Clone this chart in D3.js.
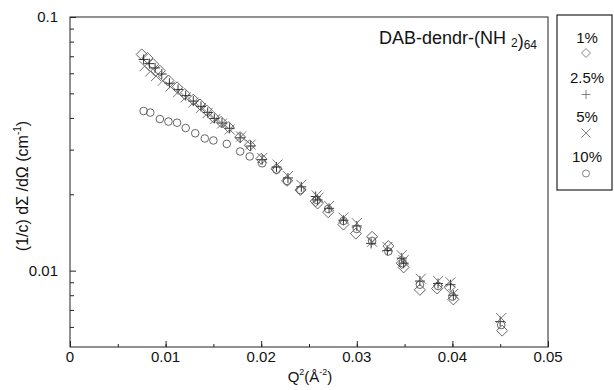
<!DOCTYPE html>
<html><head><meta charset="utf-8">
<script src="https://cdn.jsdelivr.net/npm/d3@7"></script>
<style>
body{margin:0;background:#fff;}
text{font-family:"Liberation Sans",Arial,sans-serif;fill:#111;}
</style></head>
<body><svg id="c" width="614" height="390"></svg>
<script>
// ---- data ----
const seriesNames = ["1%", "2.5%", "5%", "10%"];
const xTicks = [0, 0.01, 0.02, 0.03, 0.04, 0.05];
const xTickLabels = ["0", "0.01", "0.02", "0.03", "0.04", "0.05"];
const yTicks = [0.01, 0.1];
const yTickLabels = ["0.01", "0.1"];

const q2_1 = [0.0075,0.0081,0.0087,0.0094,0.0103,0.0112,0.0120,0.0129,0.0136,0.0143,0.0150,0.0158,0.0166,0.0178,0.0188,0.0200,0.0216,0.0227,0.0241,0.0257,0.0259,0.0270,0.0286,0.0299,0.0316,0.0333,0.0347,0.0349,0.0366,0.0384,0.0397,0.0401,0.0452];
const i_1  = [0.0712,0.0690,0.0652,0.0614,0.0562,0.0528,0.0497,0.0472,0.0452,0.0428,0.0403,0.0386,0.0368,0.0336,0.0312,0.0276,0.0252,0.0226,0.0208,0.0188,0.0184,0.0170,0.0152,0.0140,0.0136,0.0125,0.0107,0.0103,0.0084,0.0085,0.0086,0.0077,0.0058];

const q2_2 = [0.0077,0.0083,0.0089,0.0096,0.0104,0.0113,0.0121,0.0129,0.0137,0.0144,0.0151,0.0159,0.0167,0.0178,0.0189,0.0201,0.0216,0.0228,0.0242,0.0257,0.0259,0.0271,0.0286,0.0300,0.0315,0.0332,0.0347,0.0349,0.0366,0.0385,0.0398,0.0401,0.0450];
const i_2  = [0.0680,0.0655,0.0630,0.0596,0.0548,0.0518,0.0490,0.0466,0.0444,0.0420,0.0398,0.0382,0.0364,0.0334,0.0310,0.0274,0.0256,0.0232,0.0214,0.0196,0.0190,0.0176,0.0158,0.0150,0.0128,0.0120,0.0112,0.0107,0.0091,0.0089,0.0088,0.0080,0.0063];

const q2_3 = [0.0078,0.0084,0.0090,0.0097,0.0105,0.0113,0.0121,0.0129,0.0137,0.0144,0.0152,0.0159,0.0167,0.0179,0.0189,0.0201,0.0217,0.0228,0.0242,0.0258,0.0260,0.0271,0.0286,0.0300,0.0316,0.0332,0.0347,0.0349,0.0367,0.0385,0.0398,0.0401,0.0451];
const i_3  = [0.0640,0.0610,0.0585,0.0560,0.0532,0.0505,0.0482,0.0460,0.0438,0.0418,0.0396,0.0380,0.0360,0.0338,0.0314,0.0278,0.0262,0.0236,0.0218,0.0198,0.0194,0.0180,0.0162,0.0154,0.0130,0.0124,0.0115,0.0110,0.0093,0.0091,0.0090,0.0081,0.0065];

const q2_4 = [0.0077,0.0084,0.0094,0.0103,0.0112,0.0121,0.0131,0.0141,0.0150,0.0164,0.0178,0.0188,0.0201,0.0216,0.0227,0.0241,0.0258,0.0270,0.0286,0.0300,0.0316,0.0333,0.0348,0.0366,0.0385,0.0400,0.0451];
const i_4  = [0.0426,0.0420,0.0396,0.0387,0.0383,0.0365,0.0348,0.0332,0.0326,0.0316,0.0295,0.0282,0.0265,0.0250,0.0226,0.0208,0.0190,0.0175,0.0157,0.0146,0.0131,0.0119,0.0107,0.0088,0.0087,0.0079,0.0061];

const series = [
  {name: seriesNames[0], q: q2_1, v: i_1, sym: "diamond", color: "#555"},
  {name: seriesNames[1], q: q2_2, v: i_2, sym: "plus", color: "#222"},
  {name: seriesNames[2], q: q2_3, v: i_3, sym: "cross", color: "#666"},
  {name: seriesNames[3], q: q2_4, v: i_4, sym: "circle", color: "#555"}
];

// ---- layout ----
const svg = d3.select("#c");
const L = 70, R = 548, T = 17, B = 347;
const x = d3.scaleLinear().domain([0, 0.05]).range([L, R]);
const y = d3.scaleLog().domain([0.005, 0.1]).range([B, T]);

function symPath(sym, s) {
  const h = s / 2;
  if (sym === "diamond") return `M0,${-h}L${h},0L0,${h}L${-h},0Z`;
  if (sym === "plus") return `M${-h},0L${h},0M0,${-h}L0,${h}`;
  return `M${-h},${-h}L${h},${h}M${-h},${h}L${h},${-h}`;
}

// frame
svg.append("rect").attr("x", L).attr("y", T).attr("width", R - L).attr("height", B - T)
  .attr("fill", "none").attr("stroke", "#222").attr("stroke-width", 1);

// x axis (ticks inward)
const xMinor = d3.range(0, 0.0501, 0.005);
svg.append("g").attr("transform", `translate(0,${B})`)
  .call(d3.axisTop(x).tickValues(xMinor).tickSize(3).tickFormat(""))
  .call(g => g.select(".domain").remove())
  .call(g => g.selectAll("line").attr("stroke", "#222"));
svg.append("g").attr("transform", `translate(0,${B})`)
  .call(d3.axisTop(x).tickValues(xTicks).tickSize(6).tickFormat(""))
  .call(g => g.select(".domain").remove())
  .call(g => g.selectAll("line").attr("stroke", "#222"));
svg.append("g").selectAll("text").data(xTicks).join("text")
  .attr("x", d => x(d)).attr("y", B + 15).attr("text-anchor", "middle")
  .attr("font-size", 15).text((d, i) => xTickLabels[i]);

// y axis (ticks inward)
const yMinor = [0.006,0.007,0.008,0.009,0.02,0.03,0.04,0.05,0.06,0.07,0.08,0.09];
svg.append("g").attr("transform", `translate(${L},0)`)
  .call(d3.axisRight(y).tickValues(yMinor).tickSize(4).tickFormat(""))
  .call(g => g.select(".domain").remove())
  .call(g => g.selectAll("line").attr("stroke", "#222"));
svg.append("g").attr("transform", `translate(${L},0)`)
  .call(d3.axisRight(y).tickValues(yTicks).tickSize(6).tickFormat(""))
  .call(g => g.select(".domain").remove())
  .call(g => g.selectAll("line").attr("stroke", "#222"));
svg.append("g").selectAll("text").data(yTicks).join("text")
  .attr("x", L - 12).attr("y", d => y(d) + 5).attr("text-anchor", "end")
  .attr("font-size", 15).text((d, i) => yTickLabels[i]);

// axis titles
const xl = svg.append("text").attr("x", 310).attr("y", 382).attr("text-anchor", "middle").attr("font-size", 15);
xl.append("tspan").text("Q");
xl.append("tspan").attr("font-size", 9).attr("dy", -7).text("2");
xl.append("tspan").attr("dy", 7).text("(Å");
xl.append("tspan").attr("font-size", 9).attr("dy", -7).text("-2");
xl.append("tspan").attr("dy", 7).text(")");

const yl = svg.append("text").attr("transform", "translate(28,186) rotate(-90)")
  .attr("text-anchor", "middle").attr("font-size", 16);
yl.append("tspan").text("(1/c) dΣ /dΩ (cm");
yl.append("tspan").attr("font-size", 10).attr("dy", -7).text("-1");
yl.append("tspan").attr("dy", 7).text(")");

// sample label
const tl = svg.append("text").attr("x", 537).attr("y", 44).attr("text-anchor", "end").attr("font-size", 18);
tl.append("tspan").text("DAB-dendr-(NH ");
tl.append("tspan").attr("font-size", 12).attr("dy", 3).text("2");
tl.append("tspan").attr("dy", 0).text(")");
tl.append("tspan").attr("font-size", 12).attr("dy", 2).text("64");

// data points
const plot = svg.append("g");
series.forEach(s => {
  const pts = s.q.map((q, i) => ({q, v: s.v[i]}));
  const g = plot.append("g");
  if (s.sym === "circle") {
    g.selectAll("circle").data(pts).join("circle")
      .attr("cx", d => x(d.q)).attr("cy", d => y(d.v)).attr("r", 3.8)
      .attr("fill", "none").attr("stroke", s.color).attr("stroke-width", 0.9);
  } else {
    g.selectAll("path").data(pts).join("path")
      .attr("transform", d => `translate(${x(d.q)},${y(d.v)})`)
      .attr("d", symPath(s.sym, s.sym === "diamond" ? 11 : 10))
      .attr("fill", "none").attr("stroke", s.color).attr("stroke-width", 0.9);
  }
});

// legend
const lg = svg.append("g");
lg.append("rect").attr("x", 557).attr("y", 15).attr("width", 55).attr("height", 175)
  .attr("fill", "#fff").attr("stroke", "#222").attr("stroke-width", 1.2);
const legendMarkerOffset = [10, 12, 11, 12];
series.forEach((s, i) => {
  const cy = 43 + i * 39.5;
  lg.append("text").attr("x", 587).attr("y", cy).attr("text-anchor", "middle")
    .attr("font-size", 15).text(s.name);
  const my = cy + legendMarkerOffset[i];
  if (s.sym === "circle") {
    lg.append("circle").attr("cx", 586).attr("cy", my).attr("r", 3.5)
      .attr("fill", "none").attr("stroke", "#666").attr("stroke-width", 0.8);
  } else {
    lg.append("path").attr("transform", `translate(586,${my})`)
      .attr("d", symPath(s.sym, 9)).attr("fill", "none").attr("stroke", "#666").attr("stroke-width", 0.8);
  }
});
</script></body></html>
